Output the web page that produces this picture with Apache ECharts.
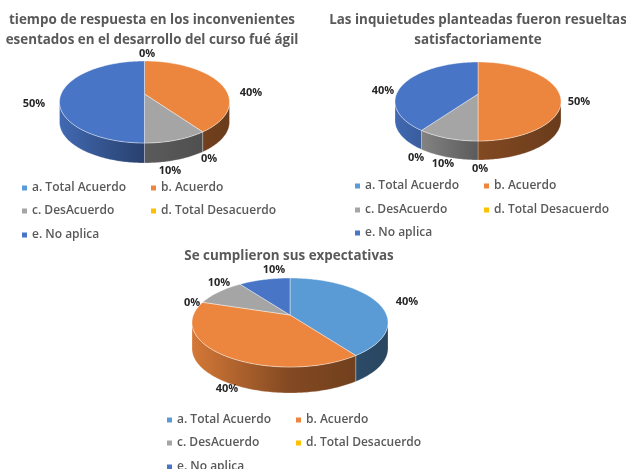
<!DOCTYPE html>
<html>
<head>
<meta charset="utf-8">
<style>
  html, body { margin: 0; padding: 0; background: #fff; }
  #chart { width: 626px; height: 469px; }
</style>
<script src="https://cdn.jsdelivr.net/npm/echarts@6/dist/echarts.min.js"></script>
</head>
<body>
<div id="chart"></div>
<script>
// datos
const categories = ["a. Total Acuerdo", "b. Acuerdo", "c. DesAcuerdo", "d. Total Desacuerdo", "e. No aplica"];
const colors = ["#5B9BD5", "#EC853D", "#A5A5A5", "#FFC000", "#4875C6"];
const valuesTiempo = [0, 40, 10, 0, 50];
const valuesInquietudes = [0, 50, 10, 0, 40];
const valuesExpectativas = [40, 40, 10, 0, 10];
const titleTiempo = "tiempo de respuesta en los inconvenientes\nesentados en el desarrollo del curso fué ágil";
const titleInquietudes = "Las inquietudes planteadas fueron resueltas\nsatisfactoriamente";
const titleExpectativas = "Se cumplieron sus expectativas";

const FONT = '"Open Sans", "Noto Sans", sans-serif';

// top / apex / bottom / rx: como se ve la cara superior de cada torta
const pies = [
  {
    values: valuesTiempo, title: titleTiempo, titleX: 152, titleY: 10,
    cx: 144.5, top: 61, apex: 94, bottom: 143, rx: 85, depth: 20,
    labels: [[147, 54], [251, 93], [170, 171], [209, 159], [34, 104]],
    legendX: [22, 151], legendY: [187, 210, 234]
  },
  {
    values: valuesInquietudes, title: titleInquietudes, titleX: 478, titleY: 10,
    cx: 478, top: 62, apex: 94, bottom: 141, rx: 83, depth: 19,
    labels: [[480, 169], [579, 102], [443, 164], [416, 158], [383, 91]],
    legendX: [355, 484], legendY: [185, 209, 232]
  },
  {
    values: valuesExpectativas, title: titleExpectativas, titleX: 289, titleY: 246,
    cx: 290, top: 278, apex: 315, bottom: 367, rx: 98, depth: 26,
    labels: [[407, 302], [227, 389], [219, 283], [192, 303], [274, 270]],
    legendX: [167, 296], legendY: [419, 442, 466]
  }
];

// perspectiva: circulo unitario -> cara superior de la torta
function makeProjection(p) {
  const up = p.apex - p.top, down = p.bottom - p.apex;
  const k = (up - down) / (up + down);
  const b = up * (1 - k);
  const a = p.rx * Math.sqrt(1 - k * k);
  return function (deg) {
    const r = deg * Math.PI / 180;
    const u = Math.sin(r), v = -Math.cos(r);
    const d = 1 + k * v;
    return [p.cx + a * u / d, p.apex + b * v / d];
  };
}

function shade(hex, f) {
  const n = parseInt(hex.slice(1), 16);
  const c = [n >> 16, (n >> 8) & 255, n & 255].map(function (x) { return Math.round(x * f); });
  return "rgb(" + c.join(",") + ")";
}

function renderSlice(p, idx) {
  const project = makeProjection(p);
  const total = p.values.reduce(function (s, v) { return s + v; }, 0);
  const before = p.values.slice(0, idx).reduce(function (s, v) { return s + v; }, 0);
  return function (params, api) {
    const value = api.value(0);
    const children = [];
    if (value > 0) {
      const start = before / total * 360, end = (before + value) / total * 360;
      const arc = [];
      for (let d = start; d < end; d += 1) arc.push(project(d));
      arc.push(project(end));
      const midY = (p.top + p.bottom) / 2;
      const front = arc.filter(function (pt) { return pt[1] >= midY; });
      if (front.length > 1) {
        const lower = front.map(function (pt) { return [pt[0], pt[1] + p.depth]; }).reverse();
        children.push({
          type: "polygon",
          shape: { points: front.concat(lower) },
          z2: 1,
          style: {
            fill: new echarts.graphic.LinearGradient(p.cx - p.rx, 0, p.cx + p.rx, 0, [
              { offset: 0, color: shade(colors[idx], 0.9) },
              { offset: 0.5, color: shade(colors[idx], 0.55) },
              { offset: 1, color: shade(colors[idx], 0.45) }
            ], true),
            stroke: "rgba(255,255,255,0.5)",
            lineWidth: 0.5
          }
        });
      }
      children.push({
        type: "polygon",
        shape: { points: [[p.cx, p.apex]].concat(arc) },
        z2: 2,
        style: { fill: colors[idx], stroke: "rgba(255,255,255,0.7)", lineWidth: 0.6 }
      });
    }
    children.push({
      type: "text",
      z2: 3,
      style: {
        text: value + "%",
        x: p.labels[idx][0],
        y: p.labels[idx][1],
        align: "center",
        verticalAlign: "middle",
        fill: "#262626",
        font: "700 11px " + FONT
      }
    });
    return { type: "group", children: children };
  };
}

const series = [];
const titles = [];
const legends = [];
pies.forEach(function (p) {
  titles.push({
    text: p.title,
    left: p.titleX,
    top: p.titleY,
    textAlign: "center",
    padding: 0,
    textStyle: { color: "#595959", fontFamily: FONT, fontWeight: 700, fontSize: 13.4, lineHeight: 20 }
  });
  categories.forEach(function (name, i) {
    series.push({
      type: "custom",
      name: name,
      coordinateSystem: "none",
      silent: true,
      animation: false,
      itemStyle: { color: colors[i] },
      data: [[p.values[i]]],
      renderItem: renderSlice(p, i)
    });
    legends.push({
      data: [name],
      left: p.legendX[i % 2],
      top: p.legendY[Math.floor(i / 2)] - 7,
      padding: 0,
      icon: "rect",
      itemWidth: 5,
      itemHeight: 5,
      selectedMode: false,
      textStyle: { color: "#595959", fontFamily: FONT, fontWeight: 600, fontSize: 12, lineHeight: 16 }
    });
  });
});

const chart = echarts.init(document.getElementById("chart"), null, { renderer: "canvas" });
chart.setOption({
  animation: false,
  backgroundColor: "#fff",
  title: titles,
  legend: legends,
  tooltip: { show: false },
  series: series
});
</script>
</body>
</html>
